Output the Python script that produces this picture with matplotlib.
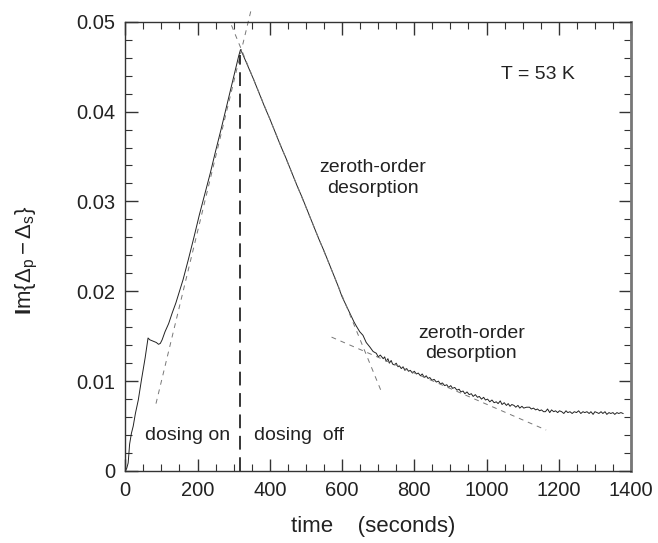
import matplotlib
matplotlib.use('Agg')
import matplotlib.pyplot as plt
from matplotlib.ticker import MultipleLocator, FuncFormatter

plt.rcParams['font.family'] = ['Liberation Sans', 'DejaVu Sans']
plt.rcParams['mathtext.fontset'] = 'custom'
plt.rcParams['mathtext.rm'] = 'Liberation Sans'
plt.rcParams['mathtext.it'] = 'Liberation Sans:italic'
plt.rcParams['mathtext.bf'] = 'Liberation Sans:bold'

time_s = [0, 4, 8, 12, 17, 22, 28, 36, 45, 55, 63, 68, 74, 80, 86, 92, 97, 102,
          110, 120, 130, 140, 150, 160, 175, 190, 205, 220, 235, 250, 265, 280,
          295, 308, 314, 319, 325, 340, 355, 370, 385, 400, 415, 430, 445, 460,
          475, 490, 505, 520, 535, 550, 563, 575, 588, 600, 613, 626, 633, 640,
          649, 658, 667, 677, 686, 695, 700, 706, 714, 718, 722, 727, 731, 736,
          740, 745, 750, 755, 759, 764, 769, 774, 779, 784, 789, 795, 800, 806,
          811, 817, 822, 828, 833, 838, 843, 849, 855, 861, 867, 872, 878, 884,
          890, 895, 901, 906, 912, 918, 924, 929, 935, 940, 946, 952, 958, 963,
          969, 975, 980, 986, 992, 997, 1003, 1009, 1015, 1021, 1027, 1032,
          1038, 1043, 1049, 1055, 1060, 1065, 1070, 1076, 1081, 1087, 1092,
          1098, 1103, 1111, 1119, 1124, 1130, 1136, 1141, 1147, 1152, 1158,
          1163, 1169, 1175, 1180, 1186, 1191, 1197, 1202, 1208, 1214, 1220,
          1225, 1231, 1237, 1243, 1249, 1255, 1261, 1267, 1272, 1278, 1284,
          1289, 1295, 1300, 1306, 1311, 1317, 1322, 1328, 1333, 1339, 1344,
          1350, 1355, 1361, 1366, 1372, 1378]
signal = [0.0000, 0.0003, 0.0009, 0.0030, 0.0042, 0.0050, 0.0064, 0.0079,
          0.0102, 0.0126, 0.0148, 0.0146, 0.0145, 0.0144, 0.0143, 0.0141,
          0.0142, 0.0146, 0.0155, 0.0164, 0.0176, 0.0187, 0.0200, 0.0213,
          0.0236, 0.0260, 0.0285, 0.0308, 0.0331, 0.0356, 0.0380, 0.0405,
          0.0430, 0.0452, 0.0462, 0.0469, 0.0464, 0.0450, 0.0436, 0.0421,
          0.0406, 0.0392, 0.0377, 0.0362, 0.0348, 0.0333, 0.0318, 0.0304,
          0.0289, 0.0274, 0.0259, 0.0245, 0.0232, 0.0220, 0.0207, 0.0194,
          0.0183, 0.0172, 0.0166, 0.0161, 0.0155, 0.0151, 0.0143, 0.0138,
          0.0133, 0.0131, 0.0127, 0.0129, 0.0125, 0.0127, 0.0122, 0.0125,
          0.0120, 0.0123, 0.0119, 0.0118, 0.0120, 0.0116, 0.0117, 0.0114,
          0.0116, 0.0112, 0.0114, 0.0111, 0.0112, 0.0109, 0.0111, 0.0108,
          0.0109, 0.0106, 0.0108, 0.0104, 0.0106, 0.0103, 0.0104, 0.0101,
          0.0102, 0.0099, 0.0100, 0.0097, 0.0098, 0.0095, 0.0096, 0.0093,
          0.0095, 0.0092, 0.0093, 0.0090, 0.0091, 0.0088, 0.0089, 0.0086,
          0.0088, 0.0085, 0.0086, 0.0083, 0.0085, 0.0082, 0.0083, 0.0080,
          0.0082, 0.0079, 0.0080, 0.0077, 0.0079, 0.0076, 0.0077, 0.0075,
          0.0078, 0.0074, 0.0076, 0.0073, 0.0075, 0.0072, 0.0074, 0.0073,
          0.0071, 0.0073, 0.0070, 0.0072, 0.0070, 0.0071, 0.0071, 0.0069,
          0.0070, 0.0068, 0.0069, 0.0067, 0.0068, 0.0066, 0.0066, 0.0069,
          0.0065, 0.0068, 0.0066, 0.0067, 0.0065, 0.0067, 0.0066, 0.0064,
          0.0067, 0.0065, 0.0066, 0.0064, 0.0066, 0.0065, 0.0067, 0.0064,
          0.0066, 0.0065, 0.0066, 0.0064, 0.0066, 0.0063, 0.0066, 0.0065,
          0.0064, 0.0066, 0.0064, 0.0066, 0.0063, 0.0065, 0.0064, 0.0065,
          0.0063, 0.0065, 0.0064, 0.0065, 0.0064]

# fitted straight lines (start, end)
fit_rise_t = [85, 350]
fit_rise_y = [0.0075, 0.0516]
fit_fall_t = [294, 709]
fit_fall_y = [0.0496, 0.00883]
fit_tail_t = [571, 1165]
fit_tail_y = [0.0149, 0.00456]

dose_off_t = 318.6
dose_off_top = 0.0463

fig = plt.figure(figsize=(6.58, 5.43), dpi=100)
ax = fig.add_axes([0.1904, 0.1326, 0.7686, 0.8274])

ax.plot(time_s, signal, color='#222222', lw=0.7)
ax.plot(fit_rise_t, fit_rise_y, color='#777777', lw=0.7, dashes=(5, 5), clip_on=False)
ax.plot(fit_fall_t, fit_fall_y, color='#777777', lw=0.7, dashes=(5, 5))
ax.plot(fit_tail_t, fit_tail_y, color='#777777', lw=0.7, dashes=(5, 5))
ax.plot([dose_off_t, dose_off_t], [0, dose_off_top], color='black', lw=1.1, dashes=(9, 5))

ax.set_xlim(0, 1400)
ax.set_ylim(0, 0.05)
ax.xaxis.set_major_locator(MultipleLocator(200))
ax.xaxis.set_minor_locator(MultipleLocator(50))
ax.yaxis.set_major_locator(MultipleLocator(0.01))
ax.yaxis.set_minor_locator(MultipleLocator(0.002))
ax.yaxis.set_major_formatter(FuncFormatter(lambda v, p: '0' if v == 0 else f'{v:.2f}'))
ax.tick_params(which='both', direction='in', top=True, right=True, labelsize=14.5,
               color='#333333', labelcolor='#222222')
ax.tick_params(which='major', length=9, width=1, pad=7)
ax.tick_params(which='minor', length=5, width=0.8)
for side in ['left', 'bottom', 'top']:
    ax.spines[side].set_linewidth(1.0)
    ax.spines[side].set_color('#333333')
ax.spines['right'].set_linewidth(2.0)
ax.spines['right'].set_color('#777777')

ax.set_xlabel('time    (seconds)', fontsize=16, color='#222222')
ax.xaxis.set_label_coords(0.49, -0.1)
ax.set_ylabel(r'$\mathbf{I}\mathrm{m}\{\Delta_{\mathrm{p}}-\Delta_{\mathrm{s}}\}$', fontsize=16,
              color='#222222')
ax.yaxis.set_label_coords(-0.168, 0.47)

txt = dict(fontsize=14, color='#222222', ha='center', va='center')
ax.text(1142, 0.0441, 'T = 53 K', **txt)
ax.text(685, 0.0326, 'zeroth-order\ndesorption', linespacing=1.25, **txt)
ax.text(958, 0.0142, 'zeroth-order\ndesorption', linespacing=1.25, **txt)
ax.text(173, 0.0040, 'dosing on', **txt)
ax.text(480, 0.0040, 'dosing  off', **txt)

fig.savefig('out.png', dpi=100)
